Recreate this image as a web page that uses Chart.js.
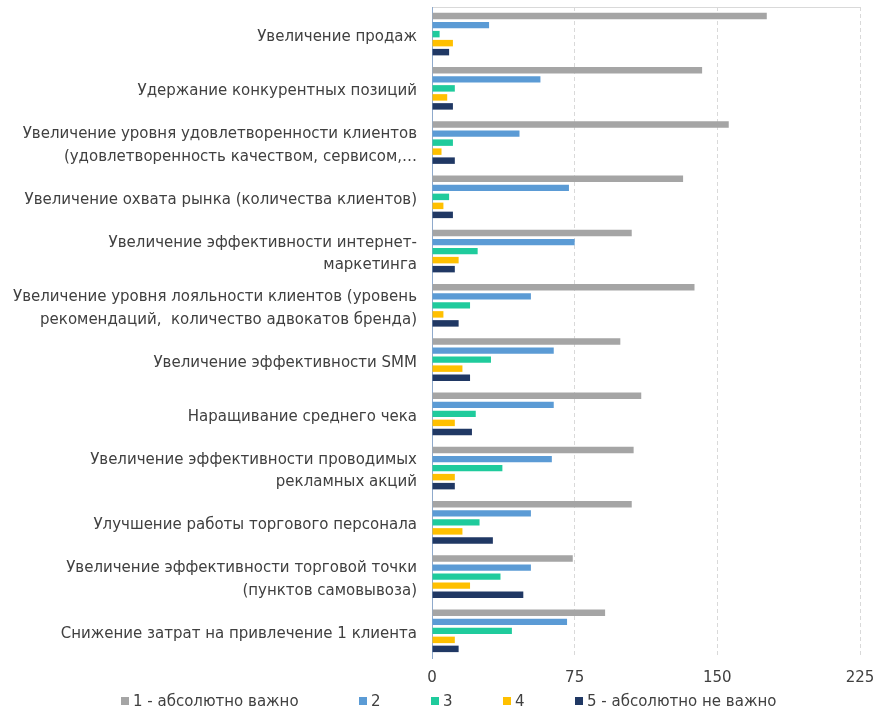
<!DOCTYPE html>
<html>
<head>
<meta charset="utf-8">
<script src="https://cdn.jsdelivr.net/npm/chart.js@4/dist/chart.umd.min.js"></script>
<style>
  html, body { margin: 0; padding: 0; background: #fff; }
  #wrap { position: relative; width: 877px; height: 709px; }
  #legend {
    position: absolute; left: 121px; top: 692px; height: 18px;
    display: flex; align-items: center;
    font-family: 'DejaVu Sans', sans-serif; font-size: 15px; color: #404040;
    white-space: nowrap;
  }
  #legend .item { display: flex; align-items: center; }
  #legend .box { width: 8px; height: 8px; margin-right: 4px; }
</style>
</head>
<body>
<div id="wrap">
  <canvas id="chart" width="877" height="709"></canvas>
  <div id="legend"></div>
</div>
<script>
const categories = [
  "Увеличение продаж",
  "Удержание конкурентных позиций",
  ["Увеличение уровня удовлетворенности клиентов", "(удовлетворенность качеством, сервисом,…"],
  "Увеличение охвата рынка (количества клиентов)",
  ["Увеличение эффективности интернет-", "маркетинга"],
  ["Увеличение уровня лояльности клиентов (уровень", "рекомендаций,  количество адвокатов бренда)"],
  "Увеличение эффективности SMM",
  "Наращивание среднего чека",
  ["Увеличение эффективности проводимых", "рекламных акций"],
  "Улучшение работы торгового персонала",
  ["Увеличение эффективности торговой точки", "(пунктов самовывоза)"],
  "Снижение затрат на привлечение 1 клиента"
];

const seriesNames = ["1 - абсолютно важно", "2", "3", "4", "5 - абсолютно не важно"];

const veryImportant = [176, 142, 156, 132, 105, 138, 99, 110, 106, 105, 74, 91];
const score2 = [30, 57, 46, 72, 75, 52, 64, 64, 63, 52, 52, 71];
const score3 = [4, 12, 11, 9, 24, 20, 31, 23, 37, 25, 36, 42];
const score4 = [11, 8, 5, 6, 14, 6, 16, 12, 12, 16, 20, 12];
const notImportant = [9, 11, 12, 11, 12, 14, 20, 21, 12, 32, 48, 14];

const xTicks = [0, 75, 150, 225];

const colors = ["#A5A5A5", "#5B9BD5", "#1FCB9C", "#FFC000", "#203864"];
const allSeries = [veryImportant, score2, score3, score4, notImportant];
// excel gives each legend entry its own slot width
const legendSlots = [238, 72, 72, 72, null];

const textColor = "#404040";
const fontFamily = "'DejaVu Sans', sans-serif";

const datasets = allSeries.map((data, i) => ({
  label: seriesNames[i],
  data: data,
  backgroundColor: colors[i],
  borderWidth: 0,
  categoryPercentage: 0.83,
  barPercentage: 0.72
}));

const chart = new Chart(document.getElementById("chart"), {
  type: "bar",
  data: { labels: categories, datasets: datasets },
  options: {
    indexAxis: "y",
    responsive: false,
    animation: false,
    devicePixelRatio: 1,
    layout: { padding: { top: 7, right: 17, left: 0, bottom: 11 } },
    scales: {
      x: {
        min: 0,
        max: 225,
        afterBuildTicks: axis => { axis.ticks = xTicks.map(v => ({ value: v })); },
        afterFit: axis => { axis.paddingLeft = 0; axis.paddingRight = 0; },
        grid: { color: "#D9D9D9", lineWidth: 1, drawTicks: false },
        border: { display: false, dash: [4, 3] },
        ticks: {
          color: textColor,
          font: { family: fontFamily, size: 15 },
          padding: 11
        }
      },
      top: {
        type: "linear",
        axis: "x",
        position: "top",
        display: true,
        min: 0,
        max: 225,
        afterFit: axis => { axis.height = 0; axis.paddingLeft = 0; axis.paddingRight = 0; },
        grid: { display: false, drawTicks: false },
        border: { display: true, color: "#D9D9D9", width: 1, dash: [4, 3] },
        ticks: { display: false }
      },
      y: {
        afterFit: axis => { axis.width = 432; axis.paddingTop = 0; axis.paddingBottom = 0; },
        grid: { display: false, drawTicks: false },
        border: { display: true, color: "#8FAACC", dash: [1, 1] },
        ticks: {
          color: textColor,
          font: { family: fontFamily, size: 15, lineHeight: 1.53 },
          padding: 15,
          labelOffset: 3
        }
      }
    },
    plugins: {
      legend: { display: false },
      tooltip: { enabled: false }
    }
  }
});

// html legend built from the chart's own legend items
const legendEl = document.getElementById("legend");
chart.options.plugins.legend.labels.generateLabels(chart).forEach((item, i) => {
  const div = document.createElement("div");
  div.className = "item";
  if (legendSlots[i]) div.style.width = legendSlots[i] + "px";
  const box = document.createElement("span");
  box.className = "box";
  box.style.background = item.fillStyle;
  const text = document.createElement("span");
  text.textContent = item.text;
  div.appendChild(box);
  div.appendChild(text);
  legendEl.appendChild(div);
});
</script>
</body>
</html>
